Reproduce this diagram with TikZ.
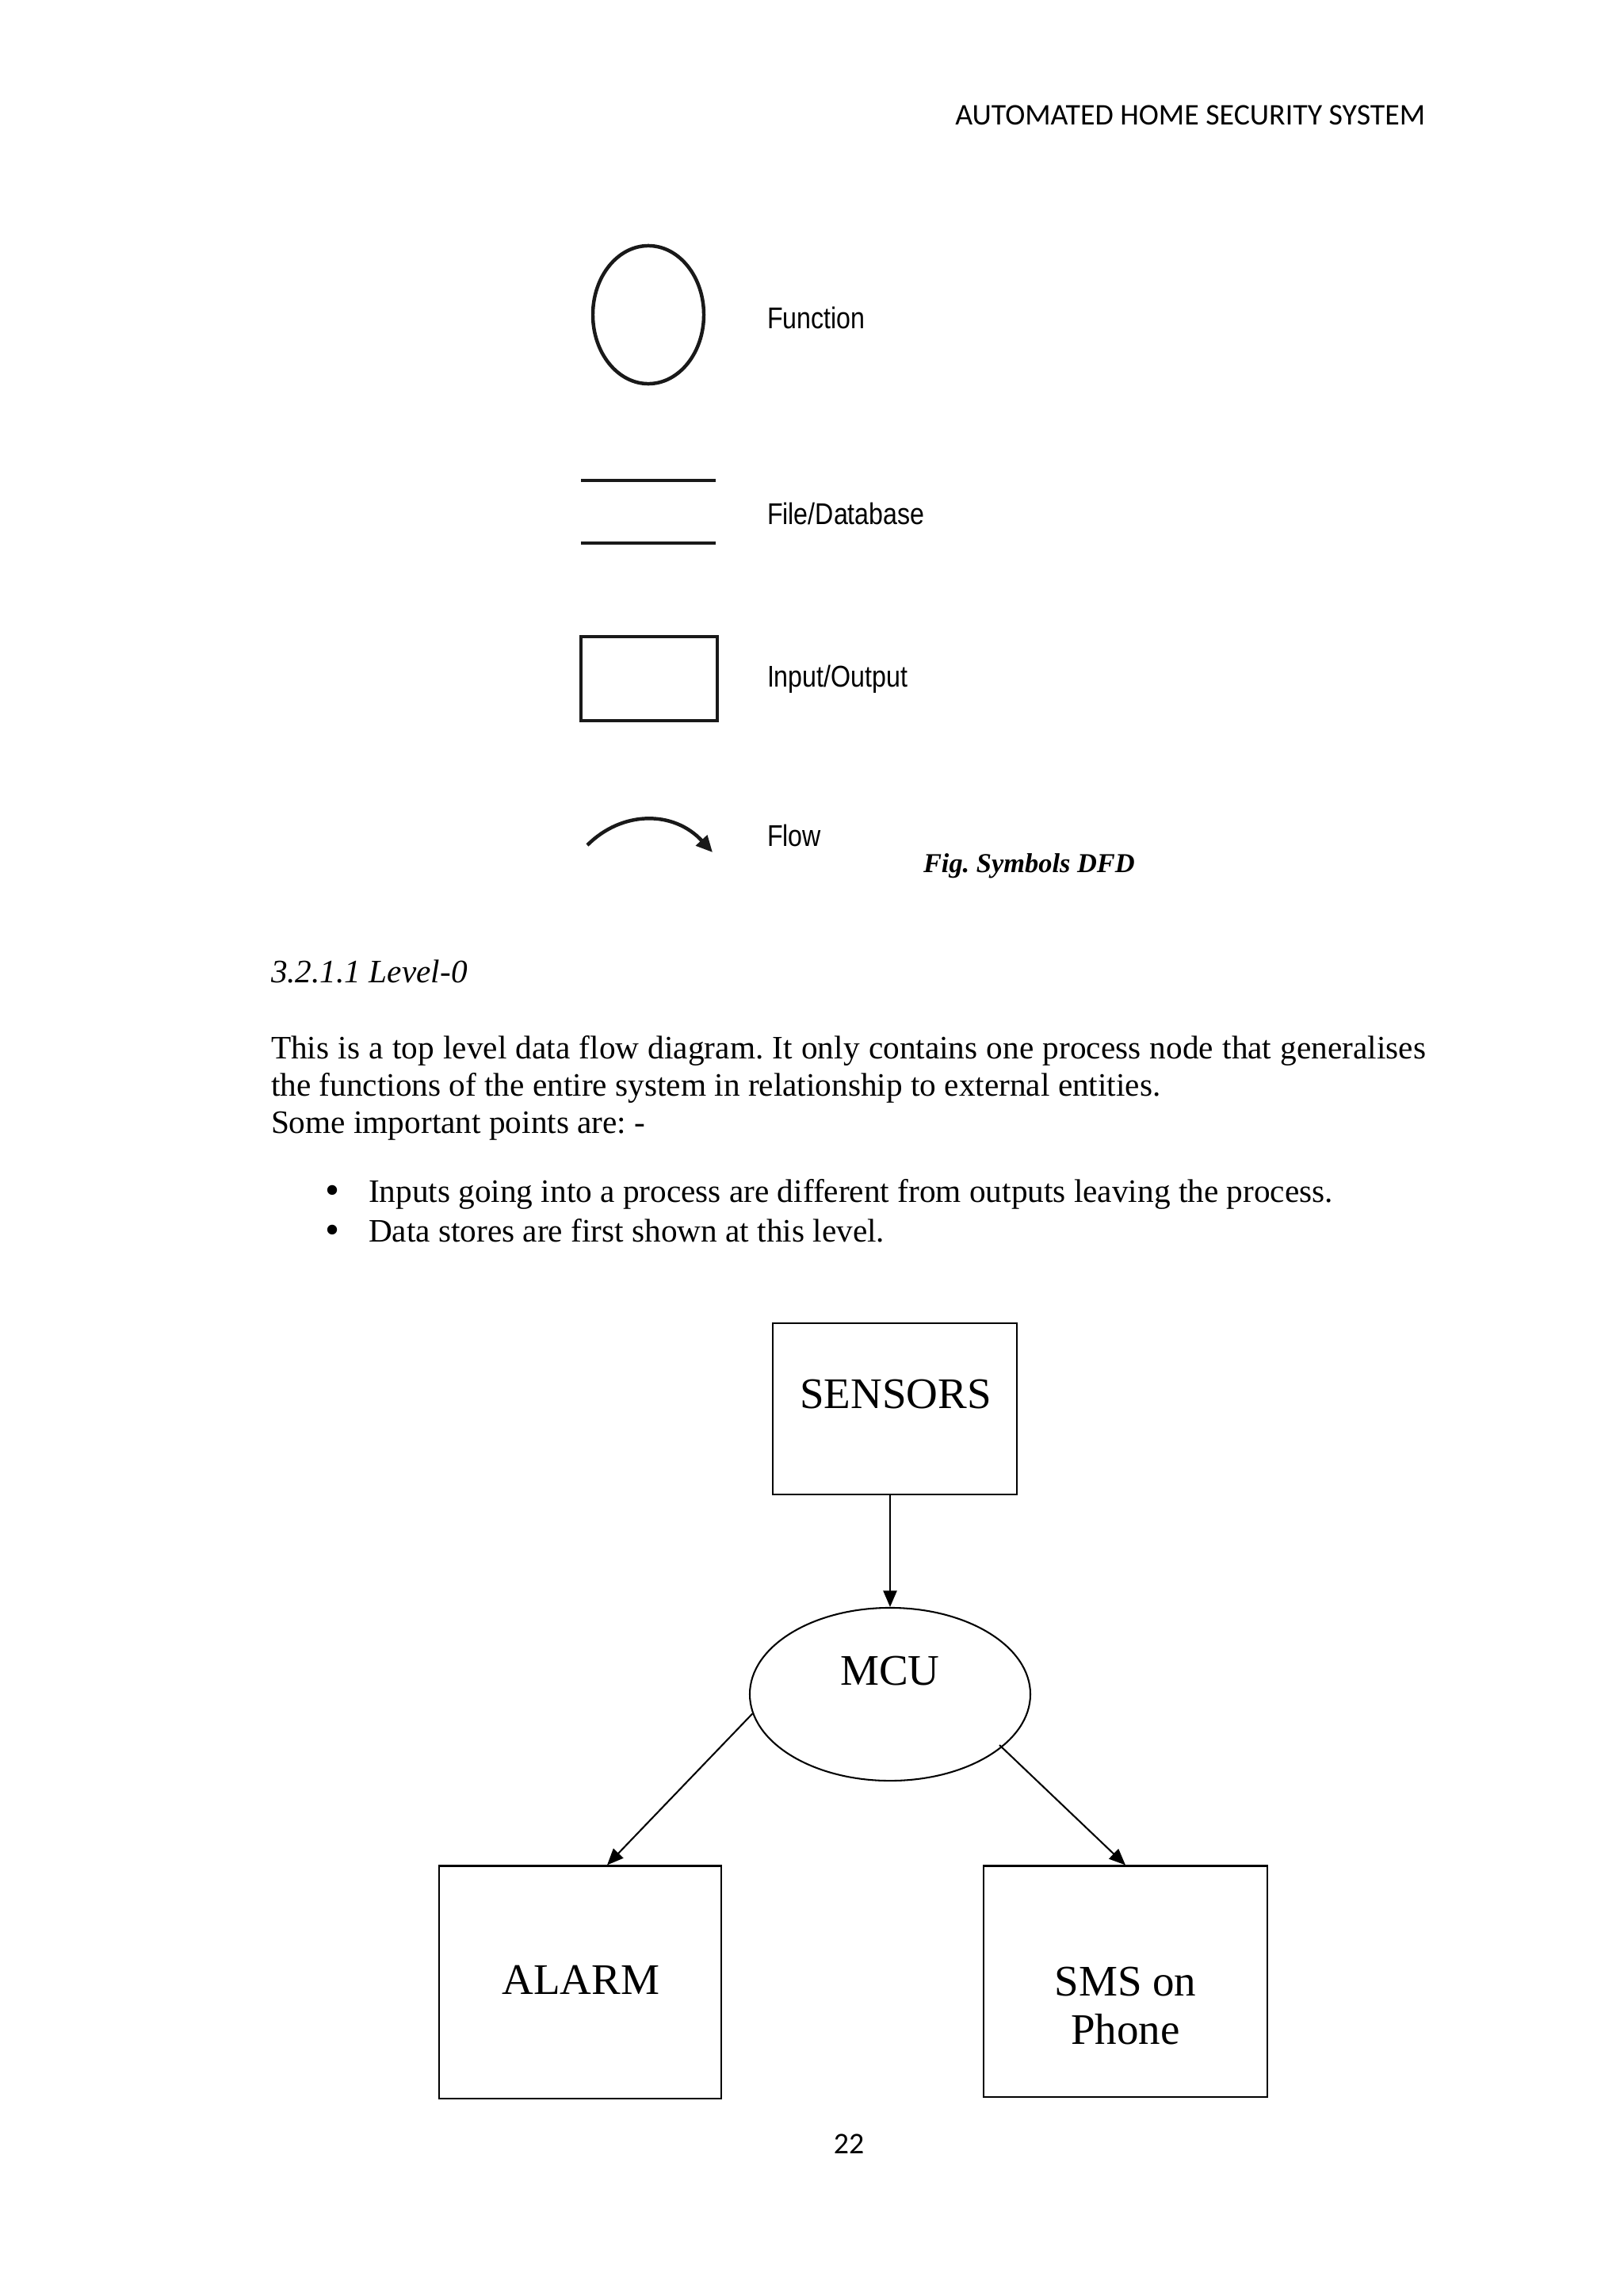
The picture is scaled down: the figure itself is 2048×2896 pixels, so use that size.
\documentclass[tikz,border=0pt]{standalone}
\usepackage{fontspec}
\setmainfont{Liberation Serif}
\newfontfamily\calib{Carlito}
\newfontfamily\legf[FakeStretch=0.85]{Liberation Sans}
\usetikzlibrary{arrows.meta,shapes.geometric,calc}
\frenchspacing
\begin{document}
\begin{tikzpicture}[x=0.29066pt,y=-0.29066pt,
 txt/.style={anchor=base west,inner sep=0pt,outer sep=0pt},
 body/.style={txt,font=\fontsize{12}{14}\selectfont},
 bul/.style={txt,font=\fontsize{15}{14}\selectfont},
 legtxt/.style={txt,font=\legf\fontsize{11}{13}\selectfont},
 legline/.style={line width=1.3pt,black!90},
 entity/.style={draw,line width=0.6pt,rectangle,inner sep=0pt},
 proc/.style={draw,line width=0.6pt,ellipse,inner sep=0pt},
 dtxt/.style={inner sep=0pt,font=\fontsize{16}{18.5}\selectfont,anchor=base},
 flow/.style={line width=0.6pt,-{Triangle[length=6pt,width=5pt]}}]
\useasboundingbox (0,0) rectangle (2048,2896);
\fill[white] (0,0) rectangle (2048,2896);
% header
\node[inner sep=0pt,anchor=base east,font=\calib\fontsize{11}{13}\selectfont] (hdr) at (1799,157) {AUTOMATED HOME SECURITY SYSTEM};
% legend
\node[draw,ellipse,legline,inner sep=0pt,minimum width=40.7pt,minimum height=50.6pt] (lfun) at (818,397) {};
\coordinate (fdA1) at (733,606); \coordinate (fdB1) at (903,606);
\coordinate (fdA2) at (733,685); \coordinate (fdB2) at (903,685);
\draw[legline] (fdA1) -- (fdB1);
\draw[legline] (fdA2) -- (fdB2);
\node[draw,legline,inner sep=0pt,minimum width=50pt,minimum height=30.8pt] (lio) at (819,856) {};
\coordinate (flS) at (741,1066); \coordinate (flE) at (899,1075);
\draw[legline,-{Triangle[length=6pt,width=5.5pt]}] (flS) .. controls (785,1022) and (850,1022) .. (flE);
\node[legtxt] (tfun) at (968,414) {Function};
\node[legtxt] (tfd) at (968,661) {File/Database};
\node[legtxt] (tio) at (968,866) {Input/Output};
\node[legtxt] (tflow) at (968,1067) {Flow};
\node[txt,font=\bfseries\itshape\fontsize{10}{12}\selectfont] (fig) at (1165,1100) {Fig. Symbols DFD};
% text
\node[txt,font=\itshape\fontsize{12}{14}\selectfont] (sec) at (342,1239) {3.2.1.1 Level-0};
\node[body] (p1) at (342,1335) {\makebox[423.5pt][s]{This is a top level data flow diagram. It only contains one process node that generalises}};
\node[body] (p2) at (342,1382) {the functions of the entire system in relationship to external entities.};
\node[body] (p3) at (342,1429) {Some important points are: -};
\node[bul] (b1) at (410,1518) {\textbullet};
\node[body] (l1) at (465,1516) {Inputs going into a process are different from outputs leaving the process.};
\node[bul] (b2) at (410,1568) {\textbullet};
\node[body] (l2) at (465,1566) {Data stores are first shown at this level.};
% diagram
\node[entity,minimum width=89.5pt,minimum height=62.8pt] (sensors) at (1129,1777) {};
\node[dtxt] (tsens) at (1130,1776) {SENSORS};
\node[proc,minimum width=102.9pt,minimum height=63.4pt] (mcu) at (1123,2137) {};
\node[dtxt] (tmcu) at (1123,2125) {MCU};
\node[entity,minimum width=103.5pt,minimum height=85.2pt] (alarm) at (732,2500) {};
\node[dtxt] (talarm) at (733,2515) {ALARM};
\node[entity,minimum width=104pt,minimum height=84.6pt] (sms) at (1420,2499) {};
\node[dtxt] (tsms1) at (1420,2517) {SMS on};
\node[dtxt] (tsms2) at (1420,2578) {Phone};
\draw[flow] (mcu.north |- sensors.south) -- (mcu.north);
\draw[flow] (mcu.188) -- ($(alarm.north)+(34,0)$);
\draw[flow] ($(mcu.center)+(138,64)$) -- (sms.north);
% page number
\node[inner sep=0pt,anchor=base,font=\calib\fontsize{11}{13}\selectfont] (pg) at (1071,2716) {22};
\end{tikzpicture}
\end{document}
